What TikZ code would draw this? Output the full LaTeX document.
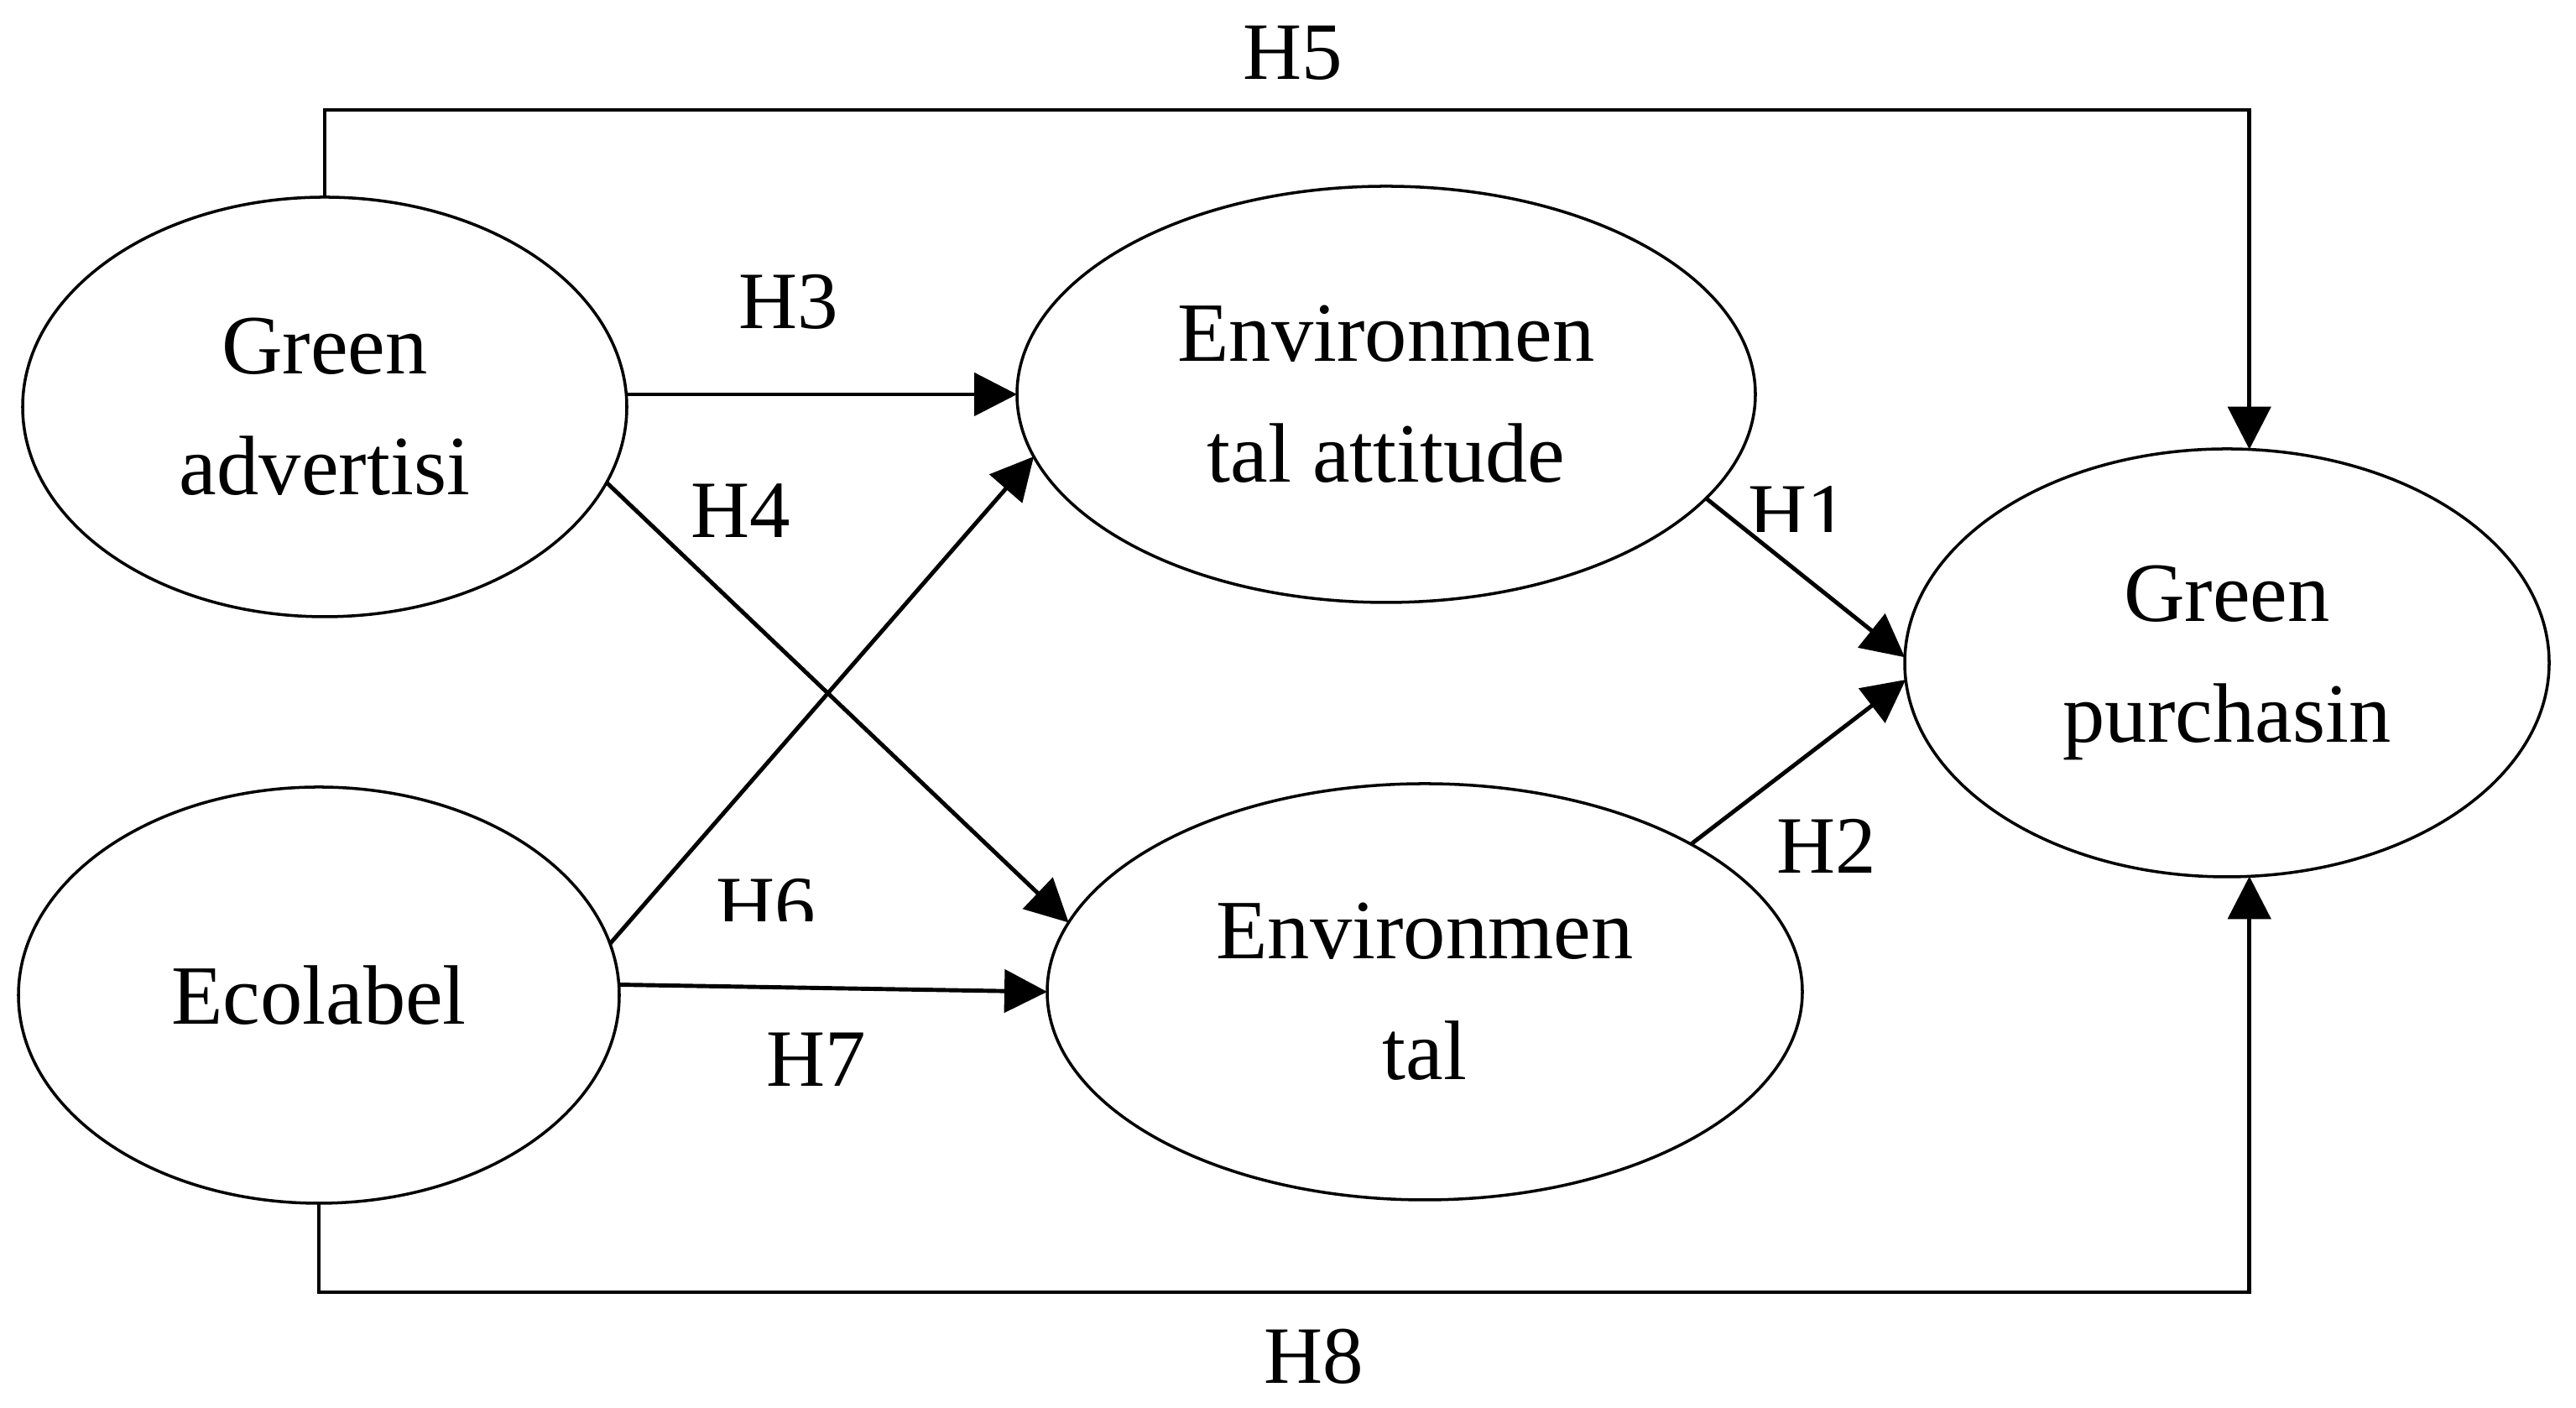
\documentclass[tikz,border=0pt]{standalone}
\usepackage{fontspec}
\setmainfont{Liberation Serif}
\usetikzlibrary{arrows.meta,shapes.geometric}

\begin{document}
\begin{tikzpicture}[
    construct/.style={ellipse, draw, line width=1pt, inner sep=0pt, outer sep=0pt, align=center,
      font=\fontsize{28.6}{41}\selectfont},
    hyp/.style={font=\fontsize{27.6}{41}\selectfont, inner sep=0pt},
    link/.style={line width=1.4pt, -{Triangle[length=5.1mm,width=5.1mm]}}
  ]
  \useasboundingbox (0,0) rectangle (30.70,16.78);

  % Nodes
  \node (ga) at (3.87,11.93) [construct, minimum width=7.2cm, minimum height=5.0cm] {Green\\advertisi};
  \node (ec) at (3.80,4.92) [construct, minimum width=7.16cm, minimum height=4.96cm] {Ecolabel};
  \node (ea) at (16.52,12.08) [construct, minimum width=8.8cm, minimum height=4.96cm] {Environmen\\tal attitude};
  \node (ev) at (16.98,4.96) [construct, minimum width=9.0cm, minimum height=4.96cm] {Environmen\\tal};
  \node (gp) at (26.54,8.88) [construct, minimum width=7.68cm, minimum height=5.1cm] {Green\\purchasin};

  % Labels
  \begin{scope}
    \clip (20.5,10.44) rectangle (22.5,11.5);
    \node (h1) at (21.43,10.66) [hyp] {H1};
  \end{scope}
  \node (h2) at (21.77,6.70) [hyp] {H2};
  \node (h3) at (9.40,13.18) [hyp] {H3};
  \node (h4) at (8.83,10.69) [hyp] {H4};
  \node (h5) at (15.41,16.15) [hyp] {H5};
  \begin{scope}
    \clip (8,5.80) rectangle (10.5,7);
    \node (h6) at (9.13,5.98) [hyp] {H6};
  \end{scope}
  \node (h7) at (9.73,4.15) [hyp] {H7};
  \node (h8) at (15.66,0.61) [hyp] {H8};

  % Edges
  \draw[link] (ea.west -| ga.east) -- (ea.west);
  \draw[link] (ga.-15) -- (ev.169);
  \draw[link] (ec.10) -- (ea.190);
  \draw[link] (ec.2) -- (ev.west);
  \draw[link] (ea.-18) -- (gp.179);
  \draw[link] (ev.29) -- (gp.183);
  \draw[link] (ga.north) -- ++(0,1.04) -| (gp.84);
  \draw[link] (ec.south) -- ++(0,-1.06) -| (gp.-84);
\end{tikzpicture}
\end{document}
